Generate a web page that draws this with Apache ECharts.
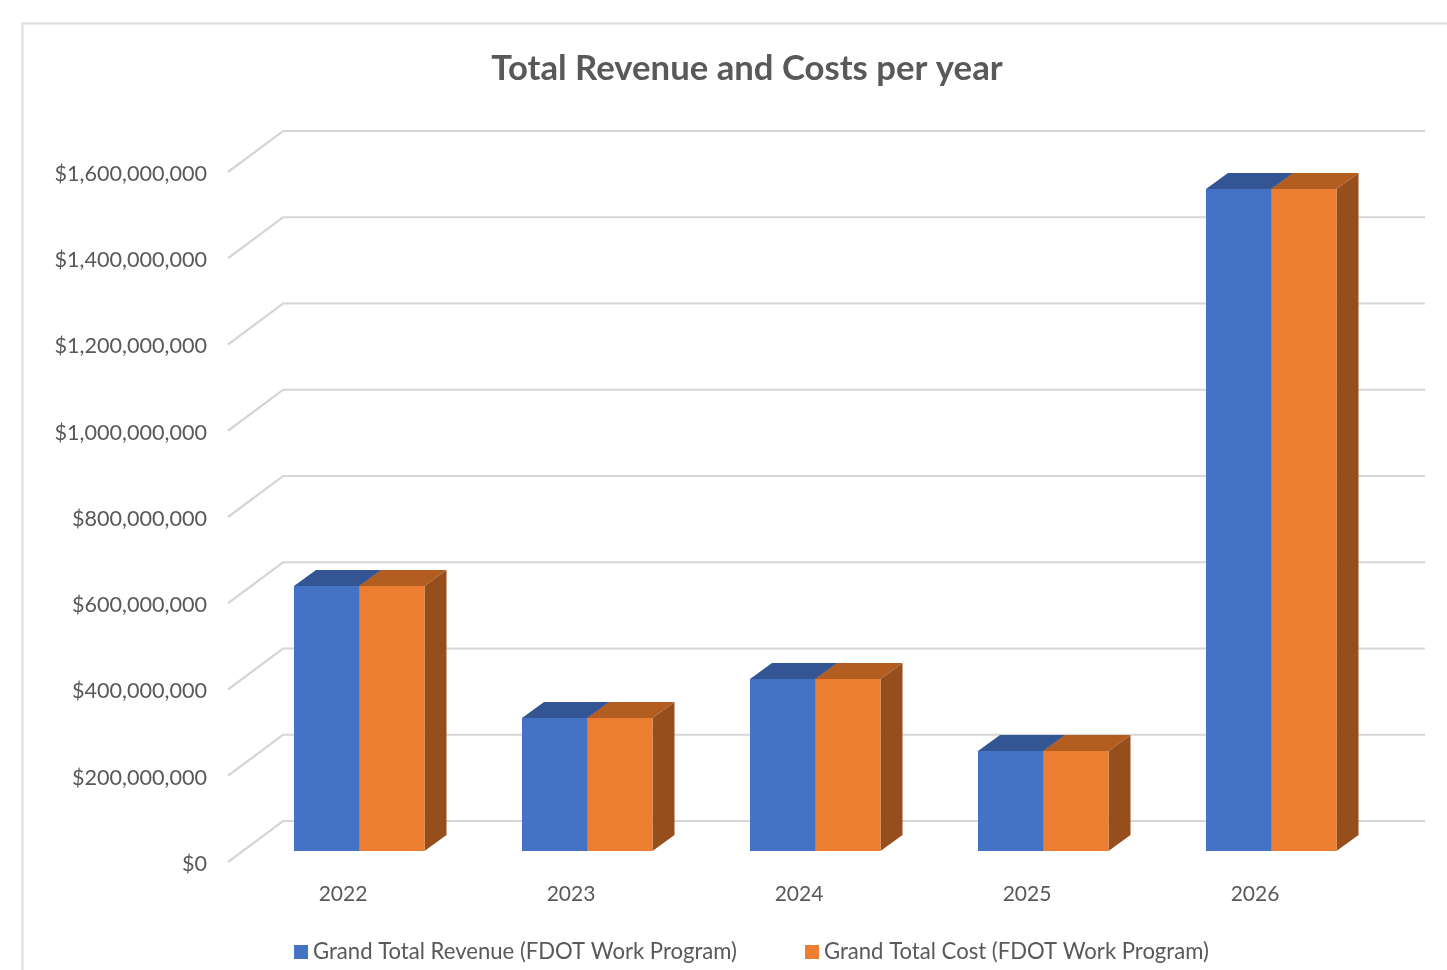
<!DOCTYPE html>
<html>
<head>
<meta charset="utf-8">
<style>html,body{margin:0;padding:0;background:#fff}#c{width:1447px;height:970px}</style>
<script src="https://cdn.jsdelivr.net/npm/echarts@6/dist/echarts.min.js"></script>
</head>
<body>
<div id="c"></div>
<script>
const years = ['2022', '2023', '2024', '2025', '2026'];
const revenue = [614000000, 308000000, 399000000, 232000000, 1534000000];
const cost = [614000000, 308000000, 399000000, 232000000, 1534000000];
const gridTicks = [0, 200000000, 400000000, 600000000, 800000000, 1000000000, 1200000000, 1400000000, 1600000000];
const revenueName = 'Grand Total Revenue (FDOT Work Program)';
const costName = 'Grand Total Cost (FDOT Work Program)';

const FONT = 'Lato, Carlito, Calibri, sans-serif';
const GREY = '#595959';
const WALL = { dx: 55, dy: -41, endDx: 57 };
const DEPTH = { dx: 22, dy: -16 };
const BAR_W = 65.25;
const BAR_LIFT = -11;

function poly(points, fill) {
  return { type: 'polygon', shape: { points }, style: { fill, stroke: null } };
}
function barRenderer(offsetCat, colors) {
  return function (params, api) {
    const zero = api.coord([api.value(0), 0]);
    const top = api.coord([api.value(0), api.value(1)]);
    const xl = zero[0] + offsetCat;
    const xr = xl + BAR_W;
    const yb = zero[1] + BAR_LIFT;
    const yt = Math.round(top[1] + BAR_LIFT);
    return {
      type: 'group',
      children: [
        poly([[xr, yb], [xr + DEPTH.dx, yb + DEPTH.dy], [xr + DEPTH.dx, yt + DEPTH.dy], [xr, yt]], colors.side),
        poly([[xl, yt], [xr, yt], [xr + DEPTH.dx, yt + DEPTH.dy], [xl + DEPTH.dx, yt + DEPTH.dy]], colors.top),
        { type: 'rect', shape: { x: xl, y: yt, width: BAR_W, height: yb - yt }, style: { fill: colors.front } }
      ]
    };
  };
}
function gridRenderer(params, api) {
  const v = api.value(0);
  const a = api.coord([0, v]);
  const left = params.coordSys.x;
  const right = left + params.coordSys.width;
  return {
    type: 'polyline',
    shape: { points: [[left, a[1]], [left + WALL.dx, a[1] + WALL.dy], [right + WALL.endDx, a[1] + WALL.dy]] },
    style: { stroke: '#d6d6d6', lineWidth: 2.2, fill: null }
  };
}

const chart = echarts.init(document.getElementById('c'), null, { renderer: 'canvas' });
chart.setOption({
  animation: false,
  backgroundColor: '#fff',
  title: {
    text: 'Total Revenue and Costs per year',
    left: 742, top: 46, textAlign: 'center',
    textStyle: { fontFamily: FONT, fontSize: 34.7, fontWeight: 'bold', color: GREY }
  },
  legend: {
    data: [revenueName, costName],
    left: 294, top: 941, padding: 0,
    icon: 'rect', itemWidth: 14, itemHeight: 14, itemGap: 68,
    textStyle: { fontFamily: FONT, fontSize: 22.1, color: GREY },
    selectedMode: false
  },
  grid: { left: 228, top: 172, width: 1140, height: 690 },
  xAxis: {
    type: 'category', data: years,
    axisLine: { show: false }, axisTick: { show: false }, splitLine: { show: false },
    axisLabel: { fontFamily: FONT, fontSize: 21, color: GREY, margin: 22, padding: [0, 0, 0, 2] }
  },
  yAxis: {
    type: 'value', min: 0, max: 1600000000, interval: 200000000,
    axisLine: { show: false }, axisTick: { show: false }, splitLine: { show: false },
    axisLabel: {
      margin: 21,
      formatter: v => '{a|$' + v.toLocaleString('en-US') + '}',
      rich: { a: { fontFamily: FONT, fontSize: 21.6, color: GREY, padding: [4, 0, 0, 0] } }
    }
  },
  graphic: [{
    type: 'polyline', silent: true, z: -1,
    shape: { points: [[22.5, 970], [22.5, 23.5], [1447, 23.5]] },
    style: { stroke: '#dcdcdc', lineWidth: 2, fill: null }
  }],
  series: [
    {
      type: 'custom', name: 'grid', coordinateSystem: 'cartesian2d', silent: true, z: 1,
      encode: { y: 0 },
      data: gridTicks.map(v => [v]),
      renderItem: gridRenderer
    },
    {
      type: 'custom', name: revenueName, z: 2,
      itemStyle: { color: '#4472c4' },
      encode: { x: 0, y: 1 },
      data: years.map((y, i) => [i, revenue[i]]),
      renderItem: barRenderer(-48, { front: '#4472c4', top: '#335593', side: '#2f5190' })
    },
    {
      type: 'custom', name: costName, z: 3,
      itemStyle: { color: '#ed7d31' },
      encode: { x: 0, y: 1 },
      data: years.map((y, i) => [i, cost[i]]),
      renderItem: barRenderer(17.25, { front: '#ed7d31', top: '#b35d21', side: '#964f1c' })
    }
  ]
});
</script>
</body>
</html>
